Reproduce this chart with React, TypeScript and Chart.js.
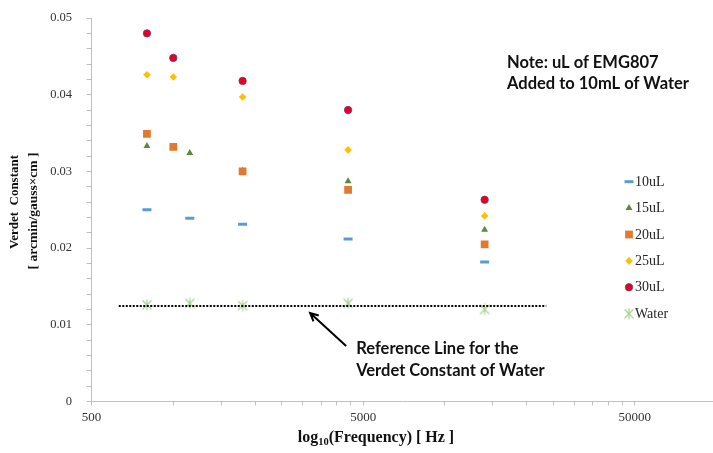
import React, { useEffect, useRef } from 'react';
import { Chart, registerables } from 'chart.js';
import { drawPoint } from 'chart.js/helpers';

Chart.register(...registerables);

// Frequencies (Hz)
const freqSet1 = [800, 1150, 1800, 4400, 14000]; // 10uL, 15uL, Water
const freqSet2 = [800, 1000, 1800, 4400, 14000]; // 20uL, 25uL, 30uL

// Verdet constant values [arcmin/gauss×cm]
const verdet10uL = [0.0250, 0.0239, 0.0231, 0.0212, 0.0182];
const verdet15uL = [0.0333, 0.0324, 0.0301, 0.0287, 0.0224];
const verdet20uL = [0.0349, 0.0332, 0.0300, 0.0276, 0.0205];
const verdet25uL = [0.0426, 0.0423, 0.0397, 0.0328, 0.0242];
const verdet30uL = [0.0480, 0.0448, 0.0418, 0.0380, 0.0263];
const verdetWater = [0.0126, 0.0128, 0.0125, 0.0128, 0.0120];

// Reference line for water
const refLineFreq = [630, 23600];
const refLineVerdet = [0.01245, 0.01245];

const seriesNames = ['10uL', '15uL', '20uL', '25uL', '30uL', 'Water'];

// Axis ticks
const xTickValues = [500, 1000, 1500, 2000, 2500, 3000, 3500, 4000, 4500, 5000,
  10000, 15000, 20000, 25000, 30000, 35000, 40000, 45000, 50000];
const xLabelValues = [500, 5000, 50000];
const yLabelValues = [0, 0.01, 0.02, 0.03, 0.04, 0.05];

const noteLines = ['Note: uL of EMG807', 'Added to 10mL of Water'];
const refNoteLines = ['Reference Line for the', 'Verdet Constant of Water'];
const yTitleLines = ['Verdet  Constant', '[ arcmin/gauss\u00d7cm ]'];

function makeStar(color: string) {
  const c = document.createElement('canvas');
  c.width = 12;
  c.height = 12;
  const g = c.getContext('2d')!;
  g.strokeStyle = color;
  g.lineWidth = 1.1;
  g.beginPath();
  g.moveTo(1.5, 1.5); g.lineTo(10.5, 10.5);
  g.moveTo(10.5, 1.5); g.lineTo(1.5, 10.5);
  g.moveTo(6, 0.5); g.lineTo(6, 11.5);
  g.stroke();
  return c;
}

export default function App() {
  const ref = useRef<HTMLCanvasElement>(null);

  useEffect(() => {
    const canvas = ref.current!;
    const star = makeStar('#a4d28c');
    const pts = (xs: number[], ys: number[]) => xs.map((x, i) => ({ x, y: ys[i] }));

    const datasets: any[] = [
      { label: seriesNames[0], data: pts(freqSet1, verdet10uL), pointStyle: 'line', pointRadius: 4.5, pointBorderWidth: 3, borderColor: '#5b9bd5', backgroundColor: '#5b9bd5', order: 6 },
      { label: seriesNames[1], data: pts(freqSet1, verdet15uL), pointStyle: 'triangle', pointRadius: 4, pointBorderWidth: 0, borderColor: '#5a8a3a', backgroundColor: '#5a8a3a', order: 5 },
      { label: seriesNames[2], data: pts(freqSet2, verdet20uL), pointStyle: 'rect', pointRadius: 5.5, pointBorderWidth: 0, borderColor: '#e07a30', backgroundColor: '#e07a30', order: 4 },
      { label: seriesNames[3], data: pts(freqSet2, verdet25uL), pointStyle: 'rectRot', pointRadius: 3.8, pointBorderWidth: 0, borderColor: '#ffc000', backgroundColor: '#ffc000', order: 3 },
      { label: seriesNames[4], data: pts(freqSet2, verdet30uL), pointStyle: 'circle', pointRadius: 3.7, pointBorderWidth: 0.8, borderColor: '#6a3a80', backgroundColor: '#e8001c', order: 2 },
      { label: seriesNames[5], data: pts(freqSet1, verdetWater), pointStyle: star, pointRadius: 6, pointBorderWidth: 0, borderColor: '#a4d28c', backgroundColor: '#a4d28c', order: 1 },
      { label: 'ref', data: pts(refLineFreq, refLineVerdet), showLine: true, pointRadius: 0, borderColor: '#000', borderWidth: 2, borderDash: [2, 1.5], order: 0 },
    ];

    const decorPlugin = {
      id: 'decor',
      afterDraw(chart: any) {
        const ctx = chart.ctx;
        const xs = chart.scales.x;
        const ys = chart.scales.y;
        ctx.save();

        // Legend
        const lx = 629, ly0 = 181.7, ldy = 26.4;
        for (let i = 0; i < 6; i++) {
          const ds = chart.data.datasets[i];
          const y = ly0 + i * ldy;
          ctx.fillStyle = ds.backgroundColor;
          ctx.strokeStyle = ds.borderColor;
          ctx.lineWidth = ds.pointBorderWidth;
          drawPoint(ctx, { pointStyle: ds.pointStyle, radius: ds.pointRadius, borderWidth: ds.pointBorderWidth, rotation: 0 } as any, lx, y);
          ctx.fillStyle = '#262626';
          ctx.font = '14px "Liberation Serif"';
          ctx.textAlign = 'left';
          ctx.textBaseline = 'middle';
          ctx.fillText(ds.label, 635, y + 0.5);
        }

        // Note text
        ctx.fillStyle = '#111';
        ctx.font = 'bold 16.5px Lato';
        ctx.textAlign = 'left';
        ctx.textBaseline = 'middle';
        ctx.fillText(noteLines[0], 507, 62.5);
        ctx.fillText(noteLines[1], 507, 84);

        // Reference annotation text
        const tx = xs.getPixelForValue(4712);
        ctx.fillText(refNoteLines[0], tx, ys.getPixelForValue(0.00685));
        ctx.fillText(refNoteLines[1], tx, ys.getPixelForValue(0.00398));

        // Arrow
        const ax0 = xs.getPixelForValue(4329), ay0 = ys.getPixelForValue(0.00724);
        const ax1 = xs.getPixelForValue(3190), ay1 = ys.getPixelForValue(0.01154);
        const ang = Math.atan2(ay1 - ay0, ax1 - ax0);
        ctx.strokeStyle = '#000';
        ctx.lineWidth = 2;
        ctx.beginPath();
        ctx.moveTo(ax0, ay0);
        ctx.lineTo(ax1, ay1);
        const hl = 9, ha = 0.45;
        ctx.moveTo(ax1 - hl * Math.cos(ang - ha), ay1 - hl * Math.sin(ang - ha));
        ctx.lineTo(ax1, ay1);
        ctx.lineTo(ax1 - hl * Math.cos(ang + ha), ay1 - hl * Math.sin(ang + ha));
        ctx.stroke();

        // Y title
        ctx.fillStyle = '#111';
        ctx.textAlign = 'center';
        ctx.textBaseline = 'middle';
        const yt = [
          { x: 15, y: 202, font: 'bold 13px "Liberation Serif"' },
          { x: 33.5, y: 211, font: 'bold 13.5px "Liberation Serif"' },
        ];
        yt.forEach((p, i) => {
          ctx.save();
          ctx.font = p.font;
          ctx.translate(p.x, p.y);
          ctx.rotate(-Math.PI / 2);
          ctx.fillText(yTitleLines[i], 0, 0);
          ctx.restore();
        });

        // X title with subscript
        const partA = 'log', partSub = '10', partB = '(Frequency) [ Hz ]';
        const mainFont = 'bold 16px "Liberation Serif"';
        const subFont = 'bold 10.5px "Liberation Serif"';
        ctx.textAlign = 'left';
        ctx.textBaseline = 'alphabetic';
        ctx.font = mainFont;
        const wA = ctx.measureText(partA).width;
        const wB = ctx.measureText(partB).width;
        ctx.font = subFont;
        const wS = ctx.measureText(partSub).width;
        const total = wA + wS + wB;
        let cx = 376 - total / 2;
        const base = 442;
        ctx.font = mainFont;
        ctx.fillText(partA, cx, base);
        cx += wA;
        ctx.font = subFont;
        ctx.fillText(partSub, cx, base + 3);
        cx += wS;
        ctx.font = mainFont;
        ctx.fillText(partB, cx, base);

        ctx.restore();
      },
    };

    const chart = new Chart(canvas, {
      type: 'scatter',
      data: { datasets },
      options: {
        animation: false,
        responsive: false,
        layout: { autoPadding: false, padding: { top: 18, right: 0, left: 0, bottom: 0 } },
        plugins: { legend: { display: false }, tooltip: { enabled: false } },
        scales: {
          x: {
            type: 'logarithmic',
            min: 500,
            max: 97000,
            bounds: 'data',
            afterFit: (s: any) => { s.height = 51.5; s.paddingLeft = 0; s.paddingRight = 0; },
            afterBuildTicks: (s: any) => { s.ticks = xTickValues.map((v) => ({ value: v })); },
            grid: { display: true, drawOnChartArea: false, drawTicks: true, tickLength: 4, color: '#bfbfbf' },
            border: { display: true, color: '#bfbfbf', width: 1 },
            ticks: {
              autoSkip: false,
              maxRotation: 0,
              padding: 4,
              color: '#333',
              font: { family: '"Liberation Serif"', size: 13 },
              callback: (v: any) => (xLabelValues.includes(Number(v)) ? String(v) : ''),
            },
          },
          y: {
            type: 'linear',
            min: 0,
            max: 0.05,
            afterFit: (s: any) => { s.width = 91.5; s.paddingTop = 0; s.paddingBottom = 0; },
            grid: { display: true, drawOnChartArea: false, drawTicks: true, tickLength: 5, color: '#bfbfbf' },
            border: { display: true, color: '#bfbfbf', width: 1 },
            ticks: {
              stepSize: 0.002,
              autoSkip: false,
              padding: 14.5,
              color: '#333',
              font: { family: '"Liberation Serif"', size: 12.5 },
              callback: (v: any) => {
                const n = Number(v);
                const m = yLabelValues.find((l) => Math.abs(l - n) < 1e-9);
                return m === undefined ? '' : String(m);
              },
            },
          },
        },
      },
      plugins: [decorPlugin],
    } as any);

    return () => chart.destroy();
  }, []);

  return (
    <div style={{ position: 'fixed', left: 0, top: 0, width: 713, height: 453, background: '#fff' }}>
      <canvas ref={ref} width={713} height={453} style={{ width: 713, height: 453, display: 'block' }} />
    </div>
  );
}
